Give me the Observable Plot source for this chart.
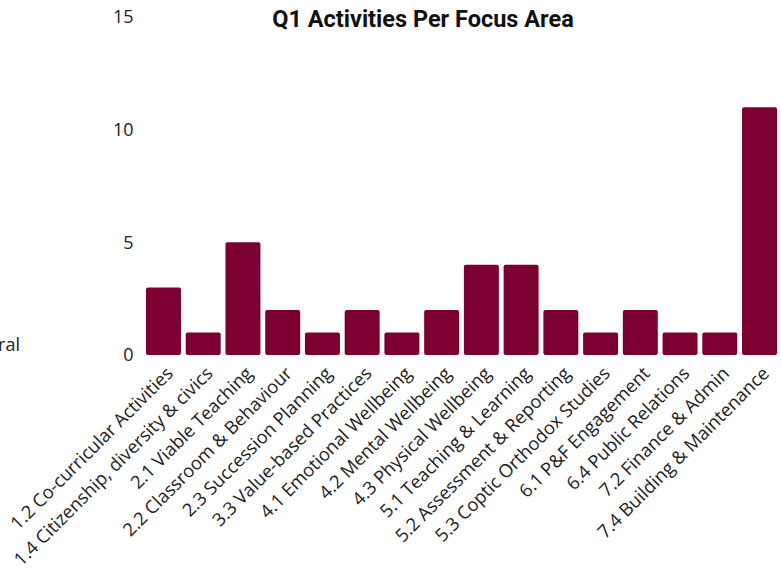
<!DOCTYPE html>
<html>
<head>
<meta charset="utf-8">
<script src="https://cdn.jsdelivr.net/npm/d3@7"></script>
<script src="https://cdn.jsdelivr.net/npm/@observablehq/plot@0.6"></script>
<style>
  html, body { margin: 0; padding: 0; background: #fff; overflow: hidden; }
  #wrap { position: relative; width: 781px; height: 574px; }
  #title { position: absolute; left: 0; width: 846px; top: 5px; text-align: center;
    font-family: Roboto, sans-serif; font-weight: 700; font-size: 23.5px; color: #111; }
  #side { position: absolute; right: 761px; top: 332px; font-family: "Open Sans", sans-serif;
    font-size: 18px; color: #222; white-space: nowrap; }
</style>
</head>
<body>
<div id="wrap">
  <div id="chart"></div>
  <div id="title">Q1 Activities Per Focus Area</div>
  <div id="side">General</div>
</div>
<script>
const categories = [
  "1.2 Co-curricular Activities",
  "1.4 Citizenship, diversity & civics",
  "2.1 Viable Teaching",
  "2.2 Classroom & Behaviour",
  "2.3 Succession Planning",
  "3.3 Value-based Practices",
  "4.1 Emotional Wellbeing",
  "4.2 Mental Wellbeing",
  "4.3 Physical Wellbeing",
  "5.1 Teaching & Learning",
  "5.2 Assessment & Reporting",
  "5.3 Coptic Orthodox Studies",
  "6.1 P&F Engagement",
  "6.4 Public Relations",
  "7.2 Finance & Admin",
  "7.4 Building & Maintenance"
];
const counts = [3, 1, 5, 2, 1, 2, 1, 2, 4, 4, 2, 1, 2, 1, 1, 11];
const yTicks = [0, 5, 10, 15];

const data = categories.map((c, i) => ({category: c, count: counts[i]}));

const chart = Plot.plot({
  width: 781,
  height: 574,
  marginLeft: 146,
  marginRight: 4,
  marginTop: 17,
  marginBottom: 219,
  style: {fontFamily: "'Open Sans', sans-serif", background: "#fff"},
  x: {domain: categories, paddingInner: 0.12, paddingOuter: 0, round: false, label: null},
  y: {domain: [0, 15], ticks: yTicks, label: null},
  marks: [
    Plot.barY(data, {x: "category", y: "count", fill: "#7B0031", rx: 2}),
    Plot.axisY({ticks: yTicks, tickSize: 0, tickPadding: 13, fontSize: 18, label: null, fill: "#222"}),
    Plot.axisX({tickSize: 0, tickPadding: 15, dx: 6, tickRotate: -45, fontSize: 18.3, label: null, fill: "#222"})
  ]
});
document.getElementById("chart").appendChild(chart);
</script>
</body>
</html>
